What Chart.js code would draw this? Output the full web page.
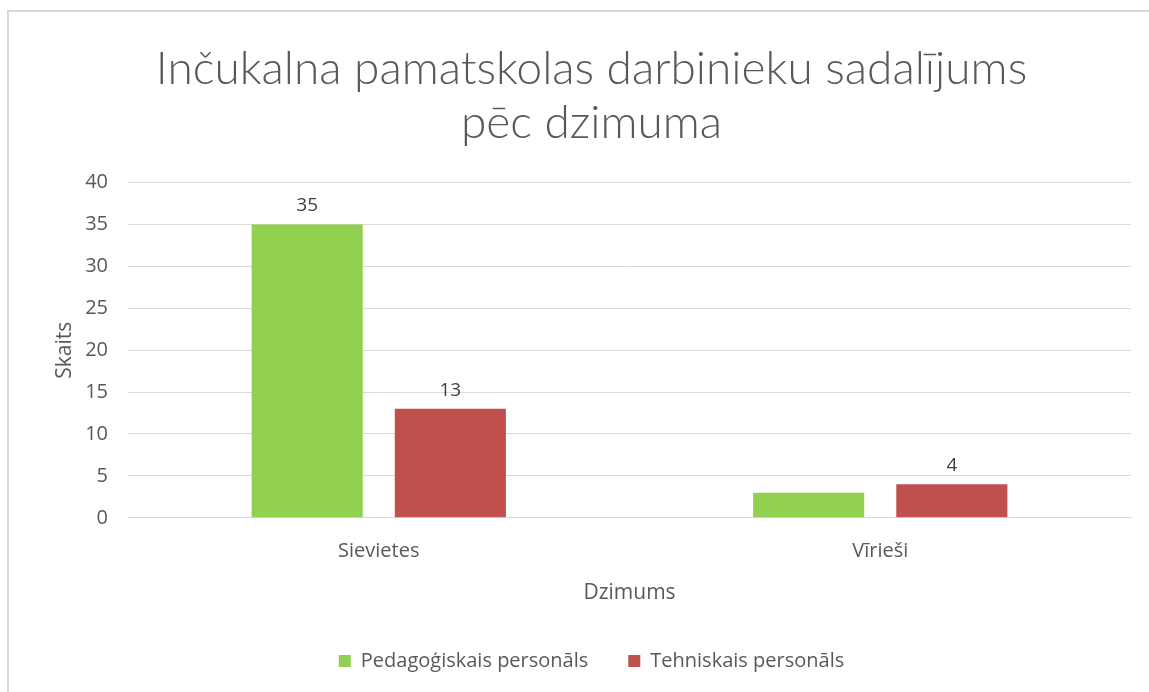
<!DOCTYPE html>
<html>
<head>
<meta charset="utf-8">
<script src="https://cdn.jsdelivr.net/npm/chart.js@4.4.1/dist/chart.umd.min.js"></script>
<style>
  html, body { margin: 0; padding: 0; background: #fff; }
  #frame {
    position: absolute; left: 7px; top: 10px;
    width: 1200px; height: 760px;
    border: 2px solid #d9d9d9;
  }
  #wrap { position: absolute; left: 0; top: 0; width: 1149px; height: 692px; }
</style>
</head>
<body>
<div id="frame"></div>
<div id="wrap"><canvas id="chart" width="1149" height="692"></canvas></div>
<script>
// ── DATA ──
const categories = ['Sievietes', 'Vīrieši'];
const pedagogical = [35, 3];
const technical   = [13, 4];
// which value labels are shown on the original
const pedagogicalLabels = [true, false];
const technicalLabels   = [true, true];
const yTicks = [0, 5, 10, 15, 20, 25, 30, 35, 40];

const TEXT  = '#595959';
const GRID  = '#d9d9d9';
const FONT  = "'Open Sans', Lato, sans-serif";
const TITLE_FONT = "Lato, 'Open Sans', sans-serif";

// ── simple value-label plugin ──
const valueLabels = {
  id: 'valueLabels',
  afterDatasetsDraw(chart) {
    const ctx = chart.ctx;
    ctx.save();
    ctx.fillStyle = '#404040';
    ctx.font = `19px ${FONT}`;
    ctx.textAlign = 'center';
    ctx.textBaseline = 'bottom';
    chart.data.datasets.forEach((ds, di) => {
      const meta = chart.getDatasetMeta(di);
      meta.data.forEach((bar, i) => {
        if (!ds.showLabel[i]) return;
        ctx.fillText(ds.data[i], bar.x, bar.y - 9);
      });
    });
    ctx.restore();
  }
};

Chart.defaults.font.family = FONT;
Chart.defaults.color = TEXT;

new Chart(document.getElementById('chart'), {
  type: 'bar',
  data: {
    labels: categories,
    datasets: [
      {
        label: 'Pedagoģiskais personāls',
        data: pedagogical,
        showLabel: pedagogicalLabels,
        backgroundColor: '#92d050',
        categoryPercentage: 0.571,
        barPercentage: 0.776,
      },
      {
        label: 'Tehniskais personāls',
        data: technical,
        showLabel: technicalLabels,
        backgroundColor: '#c0504d',
        categoryPercentage: 0.571,
        barPercentage: 0.776,
      },
    ],
  },
  options: {
    responsive: false,
    animation: false,
    layout: { padding: { left: 52, right: 18, top: 42, bottom: 11 } },
    plugins: {
      title: {
        display: true,
        text: ['Inčukalna pamatskolas darbinieku sadalījums', 'pēc dzimuma'],
        color: TEXT,
        font: { family: TITLE_FONT, size: 46, weight: '300', lineHeight: 1.18 },
        padding: { top: 0, bottom: 32 },
      },
      legend: {
        position: 'bottom',
        labels: {
          color: TEXT,
          font: { size: 20 },
          boxWidth: 12,
          boxHeight: 12,
          padding: 40,
        },
      },
      tooltip: { enabled: false },
    },
    scales: {
      x: {
        grid: { display: false },
        border: { color: GRID, width: 1 },
        ticks: { color: TEXT, font: { size: 20 }, padding: 13 },
        title: {
          display: true, text: 'Dzimums', color: TEXT,
          font: { size: 21 }, padding: { top: 5, bottom: 5 },
        },
      },
      y: {
        min: 0,
        max: 40,
        afterBuildTicks: axis => { axis.ticks = yTicks.map(v => ({ value: v })); },
        grid: { color: GRID, drawTicks: false },
        border: { display: false },
        ticks: { color: TEXT, font: { size: 20 }, padding: 20 },
        title: {
          display: true, text: 'Skaits', color: TEXT,
          font: { size: 21 }, padding: { top: 0, bottom: 0 },
        },
        afterFit: axis => { axis.width = 76; },
      },
    },
  },
  plugins: [valueLabels],
});
</script>
</body>
</html>
